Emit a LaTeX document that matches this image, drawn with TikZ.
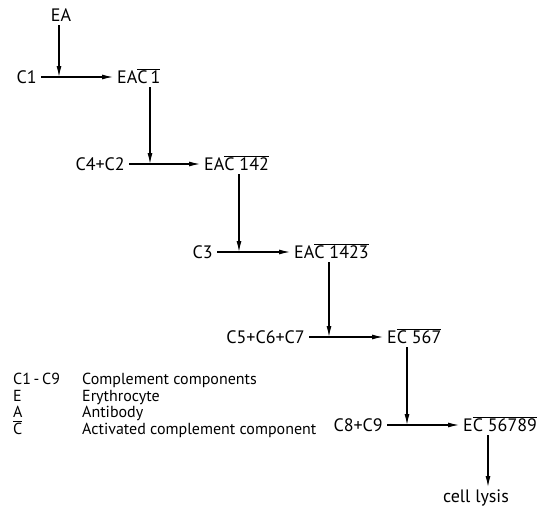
\documentclass[tikz,border=0pt]{standalone}
\usepackage{fontspec}
\setmainfont{PT Sans}
\usetikzlibrary{arrows.meta,positioning}

\newcommand{\ovl}[1]{$\overline{\hbox{#1}}$}

\begin{document}
\begin{tikzpicture}[x=1pt,y=-1pt,
    lbl/.style={font=\fontsize{18}{21}\selectfont, inner sep=4pt, text height=12.5pt, text depth=0pt},
    key/.style={font=\fontsize{16}{19}\selectfont, inner sep=0pt, anchor=base west},
    arr/.style={line width=1.1pt, -{Latex[length=11pt,width=5pt]}}]
  \useasboundingbox (0,0) rectangle (547,506);

  % Reactants and products
  \node[lbl] (ea) at (61,15) {EA};
  \node[lbl, anchor=east] (c1) at (41,77) {C1};
  \node[lbl, anchor=west] (eac1) at (113,77) {EA\ovl{C\,1}};
  \node[lbl, anchor=east] (c42) at (129,164) {C4+C2};
  \node[lbl, anchor=west] (eac142) at (200,164) {EA\ovl{C 142}};
  \node[lbl, anchor=east] (c3) at (217,252) {C3};
  \node[lbl, anchor=west] (eac1423) at (290,252) {EA\ovl{C 1423}};
  \node[lbl, anchor=east] (c567) at (309,337) {C5+C6+C7};
  \node[lbl, anchor=west] (ec567) at (383,337) {E\ovl{C 567}};
  \node[lbl, anchor=east] (c89) at (387,425) {C8+C9};
  \node[lbl, anchor=west] (ec56789) at (459,425) {E\ovl{C 56789}};
  \node[lbl] (lysis) at (476,496) {cell lysis};

  % Meeting points on the horizontal arrows
  \coordinate (m1) at (59,77);
  \coordinate (m2) at (150,164);
  \coordinate (m3) at (239,252);
  \coordinate (m4) at (329,337);
  \coordinate (m5) at (407,425);
  \coordinate (m6) at (488,487);

  % Horizontal arrows
  \draw[arr] (c1) -- (eac1);
  \draw[arr] (c42) -- (eac142);
  \draw[arr] (c3) -- (eac1423);
  \draw[arr] (c567) -- (ec567);
  \draw[arr] (c89) -- (ec56789);

  % Vertical arrows
  \draw[arr] (ea.south -| m1) -- (m1);
  \draw[arr] (eac1.south -| m2) -- (m2);
  \draw[arr] (eac142.south -| m3) -- (m3);
  \draw[arr] (eac1423.south -| m4) -- (m4);
  \draw[arr] (ec567.south -| m5) -- (m5);
  \draw[arr] (ec56789.south -| m6) -- (m6);

  % Legend
  \node[key] (k1) at (13,384) {C1\,-\,C9};
  \node[key] (k2) at (13,401) {E};
  \node[key] (k3) at (13,417) {A};
  \node[key] (k4) at (13,434) {\ovl{C}};
  \node[key] (d1) at (82,384) {Complement components};
  \node[key] (d2) at (82,401) {Erythrocyte};
  \node[key] (d3) at (82,417) {Antibody};
  \node[key] (d4) at (82,434) {Activated complement component};
\end{tikzpicture}
\end{document}
